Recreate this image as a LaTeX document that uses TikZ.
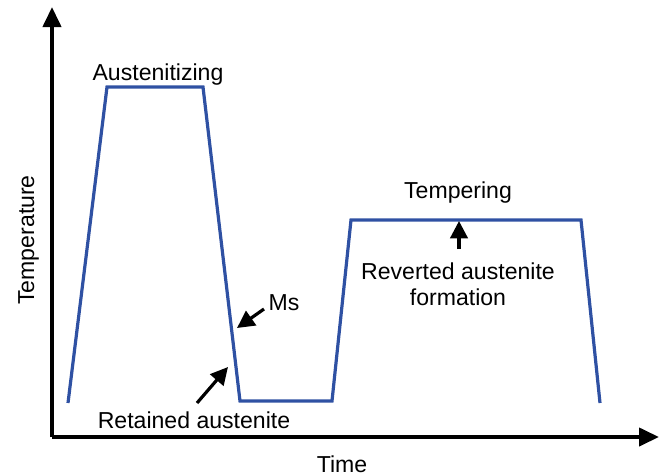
\documentclass[tikz,border=0pt]{standalone}
\usepackage{fontspec}
\setmainfont{Liberation Sans}
\usepackage{xcolor}
\usepackage{tikz}
\usetikzlibrary{arrows.meta,positioning}
\definecolor{cycleblue}{HTML}{2F51A3}
\tikzset{
  axis/.style={-{Triangle[length=15pt,width=13.5pt]}, line width=3pt, black},
  cycle/.style={cycleblue, line width=2.4pt, line join=miter},
  pointer/.style={-{Triangle[length=13pt,width=13pt]}, line width=2.4pt, black},
  lbl/.style={font=\fontsize{17.3}{19}\selectfont, inner sep=0pt, anchor=base},
}
\begin{document}
\begin{tikzpicture}[x=0.75pt,y=-0.75pt]
  \useasboundingbox (0,0) rectangle (659,475);
  % axes
  \coordinate (o) at (52,437);
  \coordinate (ytip) at (52,7);
  \coordinate (xtip) at (659,437);
  \draw[axis] (o) -- (ytip);
  \draw[axis] (o) -- (xtip);
  \node[lbl] (time) at (342,472){Time};
  \node[lbl,rotate=90] (temp) at (34,240){Temperature};
  % heat treatment cycle
  \coordinate (p1) at (68,403);
  \coordinate (p2) at (107,87);
  \coordinate (p3) at (203,87);
  \coordinate (p4) at (240,401);
  \coordinate (p5) at (332,401);
  \coordinate (p6) at (351,220);
  \coordinate (p7) at (581,220);
  \coordinate (p8) at (600,403);
  \draw[cycle] (p1) -- (p2) -- (p3) -- (p4) -- (p5) -- (p6) -- (p7) -- (p8);
  % labels
  \node[lbl] (aust) at (158,80){Austenitizing};
  \node[lbl] (temper) at (458,198){Tempering};
  \node[lbl,align=center] (revert) at (458,305){Reverted austenite\\formation};
  \node[lbl] (ms) at (284,310){Ms};
  \node[lbl] (retain) at (194,428){Retained austenite};
  % pointers
  \coordinate (revtail) at (459,249);
  \coordinate (revtip) at (459,221);
  \coordinate (mstail) at (264,309);
  \coordinate (mstip) at (237,328);
  \coordinate (rettail) at (197,403);
  \coordinate (rettip) at (228,367);
  \draw[pointer] (revtail) -- (revtip);
  \draw[pointer] (mstail) -- (mstip);
  \draw[pointer] (rettail) -- (rettip);
\end{tikzpicture}
\end{document}
